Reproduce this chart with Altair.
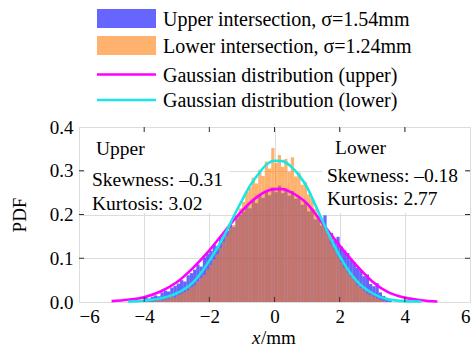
import altair as alt
import numpy as np
import pandas as pd

FONT = "Liberation Serif"

# ---- data ----
bin_width = 0.1
upper_start = -4.5
upper_pdf = [
    0.001, 0.002, 0.004, 0.005, 0.004, 0.014, 0.008, 0.012, 0.015, 0.013,   # -4.5 .. -3.6
    0.022, 0.026, 0.024, 0.033, 0.037, 0.042, 0.050, 0.047, 0.061, 0.066,   # -3.5 .. -2.6
    0.074, 0.086, 0.081, 0.102, 0.110, 0.117, 0.131, 0.128, 0.147, 0.154,   # -2.5 .. -1.6
    0.163, 0.176, 0.172, 0.191, 0.199, 0.206, 0.219, 0.214, 0.232, 0.226,   # -1.5 .. -0.6
    0.245, 0.238, 0.252, 0.244, 0.262, 0.251, 0.266, 0.249, 0.258, 0.243,   # -0.5 .. 0.4
    0.254, 0.236, 0.241, 0.222, 0.228, 0.207, 0.214, 0.189, 0.196, 0.175,   # 0.5 .. 1.4
    0.198, 0.163, 0.158, 0.141, 0.149, 0.127, 0.118, 0.112, 0.096, 0.091,   # 1.5 .. 2.4
    0.078, 0.072, 0.059, 0.063, 0.041, 0.036, 0.043, 0.022, 0.014, 0.008,   # 2.5 .. 3.4
    0.004,                                                                  # 3.5
]
lower_start = -3.8
lower_pdf = [
    0.001, 0.002, 0.004, 0.003, 0.006, 0.008, 0.011, 0.010, 0.016, 0.019,   # -3.8 .. -2.9
    0.023, 0.027, 0.034, 0.038, 0.047, 0.055, 0.062, 0.074, 0.085, 0.098,   # -2.8 .. -1.9
    0.109, 0.124, 0.138, 0.152, 0.170, 0.176, 0.198, 0.214, 0.229, 0.251,   # -1.8 .. -0.9
    0.262, 0.284, 0.271, 0.302, 0.288, 0.321, 0.305, 0.352, 0.318, 0.336,   # -0.8 .. 0.1
    0.309, 0.327, 0.298, 0.331, 0.287, 0.296, 0.268, 0.274, 0.246, 0.238,   # 0.2 .. 1.1
    0.213, 0.198, 0.184, 0.167, 0.151, 0.132, 0.118, 0.104, 0.091, 0.078,   # 1.2 .. 2.1
    0.067, 0.057, 0.049, 0.039, 0.032, 0.026, 0.020, 0.016, 0.012, 0.008,   # 2.2 .. 3.1
    0.005, 0.003,                                                           # 3.2 .. 3.3
]

curve_x_upper = [-5, -4.5, -4, -3.5, -3, -2.5, -2, -1.5, -1.25, -1, -0.75, -0.5, -0.25,
                 0, 0.25, 0.5, 0.75, 1, 1.25, 1.5, 2, 2.5, 3, 3.5, 4, 4.5, 5]
curve_upper = [0.002, 0.005, 0.011, 0.024, 0.045, 0.078, 0.118, 0.164, 0.187, 0.208, 0.227, 0.242, 0.253,
               0.258, 0.258, 0.251, 0.240, 0.225, 0.202, 0.177, 0.129, 0.085, 0.047, 0.022, 0.010, 0.004, 0.001]
curve_x_lower = [-4.5, -4, -3.5, -3, -2.5, -2, -1.5, -1.25, -1, -0.75, -0.5, -0.25,
                 0, 0.25, 0.5, 0.75, 1, 1.25, 1.5, 2, 2.5, 3, 3.5, 4, 4.5]
curve_lower = [0.001, 0.003, 0.008, 0.020, 0.045, 0.094, 0.158, 0.196, 0.232, 0.266, 0.292, 0.314,
               0.323, 0.322, 0.310, 0.290, 0.262, 0.222, 0.181, 0.105, 0.050, 0.020, 0.006, 0.002, 0.001]

x_tick_values = [-6, -4, -2, 0, 2, 4, 6]
y_tick_values = [0.0, 0.1, 0.2, 0.3, 0.4]
x_inner_ticks = [-4, -2, 0, 2, 4]
y_inner_ticks = [0.1, 0.2, 0.3]

L_UP = "Upper intersection, σ=1.54mm"
L_LO = "Lower intersection, σ=1.24mm"
L_GU = "Gaussian distribution (upper)"
L_GL = "Gaussian distribution (lower)"

C_UP, C_LO = "#0000ff", "#ff7f0e"
C_GU, C_GL = "#ff00ff", "#18e6e6"
BAR_OPACITY = 0.6

# ---- tables ----
def hist_rows(start, vals, label):
    edges = np.round(start + np.arange(len(vals)) * bin_width, 2)
    return pd.DataFrame({"x0": edges, "x1": np.round(edges + bin_width, 2),
                         "pdf": vals, "base": 0.0, "series": label})

hist_df = pd.concat([hist_rows(upper_start, upper_pdf, L_UP),
                     hist_rows(lower_start, lower_pdf, L_LO)], ignore_index=True)
curve_df = pd.concat([
    pd.DataFrame({"x": curve_x_upper, "pdf": curve_upper, "curve": L_GU}),
    pd.DataFrame({"x": curve_x_lower, "pdf": curve_lower, "curve": L_GL}),
], ignore_index=True)

W, H = 391, 175
xscale = alt.Scale(domain=[-6, 6], nice=False, zero=False)
yscale = alt.Scale(domain=[0, 0.4], nice=False)

xaxis = alt.Axis(values=x_tick_values, format="d", title=None, tickSize=0, domain=False,
                 labelFont=FONT, labelFontSize=19, labelColor="black", labelPadding=5,
                 grid=True, gridColor="#dcdcdc", gridWidth=1)
yaxis = alt.Axis(values=y_tick_values, format=".1f", title="PDF", tickSize=0, domain=False,
                 labelFont=FONT, labelFontSize=19, labelColor="black", labelPadding=6,
                 titleFont=FONT, titleFontSize=19, titleFontWeight="normal", titleColor="black",
                 titlePadding=20, grid=True, gridColor="#dcdcdc", gridWidth=1)

one = pd.DataFrame({"k": [0]})

def box(x1, x2, y1, y2, fill="white", opacity=1.0):
    return alt.Chart(one).mark_rect(fill=fill, opacity=opacity, strokeWidth=0).encode(
        x=alt.value(x1), x2=alt.value(x2), y=alt.value(y1), y2=alt.value(y2))

def hline(x1, x2, y, color):
    return alt.Chart(one).mark_rule(color=color, strokeWidth=2.6).encode(
        x=alt.value(x1), x2=alt.value(x2), y=alt.value(y))

def label(txt, px, py, italic=False, size=19.5):
    return alt.Chart(one).mark_text(font=FONT, fontSize=size, align="left", baseline="alphabetic",
                                    color="black", fontStyle="italic" if italic else "normal").encode(
        x=alt.value(px), y=alt.value(py), text=alt.value(txt))

boxes = alt.layer(box(6, 150, 5, 86), box(243, 387, 5, 86))

bars = alt.Chart(hist_df).mark_rect(opacity=BAR_OPACITY, strokeWidth=0).encode(
    x=alt.X("x0:Q", scale=xscale, axis=xaxis),
    x2="x1:Q",
    y=alt.Y("pdf:Q", scale=yscale, axis=yaxis),
    y2="base:Q",
    color=alt.Color("series:N", scale=alt.Scale(domain=[L_UP, L_LO], range=[C_UP, C_LO]), legend=None),
)

lines = alt.Chart(curve_df).mark_line(strokeWidth=2.6, interpolate="monotone").encode(
    x=alt.X("x:Q", scale=xscale),
    y=alt.Y("pdf:Q", scale=yscale),
    stroke=alt.Stroke("curve:N", scale=alt.Scale(domain=[L_GU, L_GL], range=[C_GU, C_GL]), legend=None),
)

tick_color = "#333333"
xt = pd.DataFrame({"t": x_inner_ticks})
yt = pd.DataFrame({"t": y_inner_ticks})
ticks = alt.layer(
    alt.Chart(xt).mark_rule(color=tick_color).encode(x=alt.X("t:Q", scale=xscale), y=alt.value(H), y2=alt.value(H - 5)),
    alt.Chart(xt).mark_rule(color=tick_color).encode(x=alt.X("t:Q", scale=xscale), y=alt.value(0), y2=alt.value(5)),
    alt.Chart(yt).mark_rule(color=tick_color).encode(y=alt.Y("t:Q", scale=yscale), x=alt.value(0), x2=alt.value(5)),
    alt.Chart(yt).mark_rule(color=tick_color).encode(y=alt.Y("t:Q", scale=yscale), x=alt.value(W), x2=alt.value(W - 5)),
)

# legend drawn above the plot area (coordinates relative to the plot origin)
legend = alt.layer(
    box(18, 77, -118, -99, fill=C_UP, opacity=BAR_OPACITY),
    label(L_UP, 84, -101.5, size=20),
    box(18, 77, -91, -72, fill=C_LO, opacity=BAR_OPACITY),
    label(L_LO, 84, -74.5, size=20),
    hline(18, 77, -52.5, C_GU),
    label(L_GU, 84, -45.5, size=20),
    hline(18, 77, -27, C_GL),
    label(L_GL, 84, -20, size=20),
)

texts = alt.layer(
    label("Upper", 17, 28),
    label("Skewness: –0.31", 13, 59),
    label("Kurtosis: 3.02", 13, 83),
    label("Lower", 256, 27),
    label("Skewness: –0.18", 248, 55),
    label("Kurtosis: 2.77", 248, 78),
    label("x", 173, 217, italic=True, size=19),
    label("/mm", 182, 217, size=19),
)

chart = alt.layer(boxes, bars, lines, ticks, legend, texts).resolve_scale(
    color="independent", stroke="independent"
).properties(
    width=W, height=H, autosize="none",
    padding={"left": 79, "top": 127, "right": 5, "bottom": 54},
).configure_view(stroke="black", strokeWidth=1.5).configure(background="white")

chart.save("out.html", embed_options={"renderer": "svg", "actions": False})
